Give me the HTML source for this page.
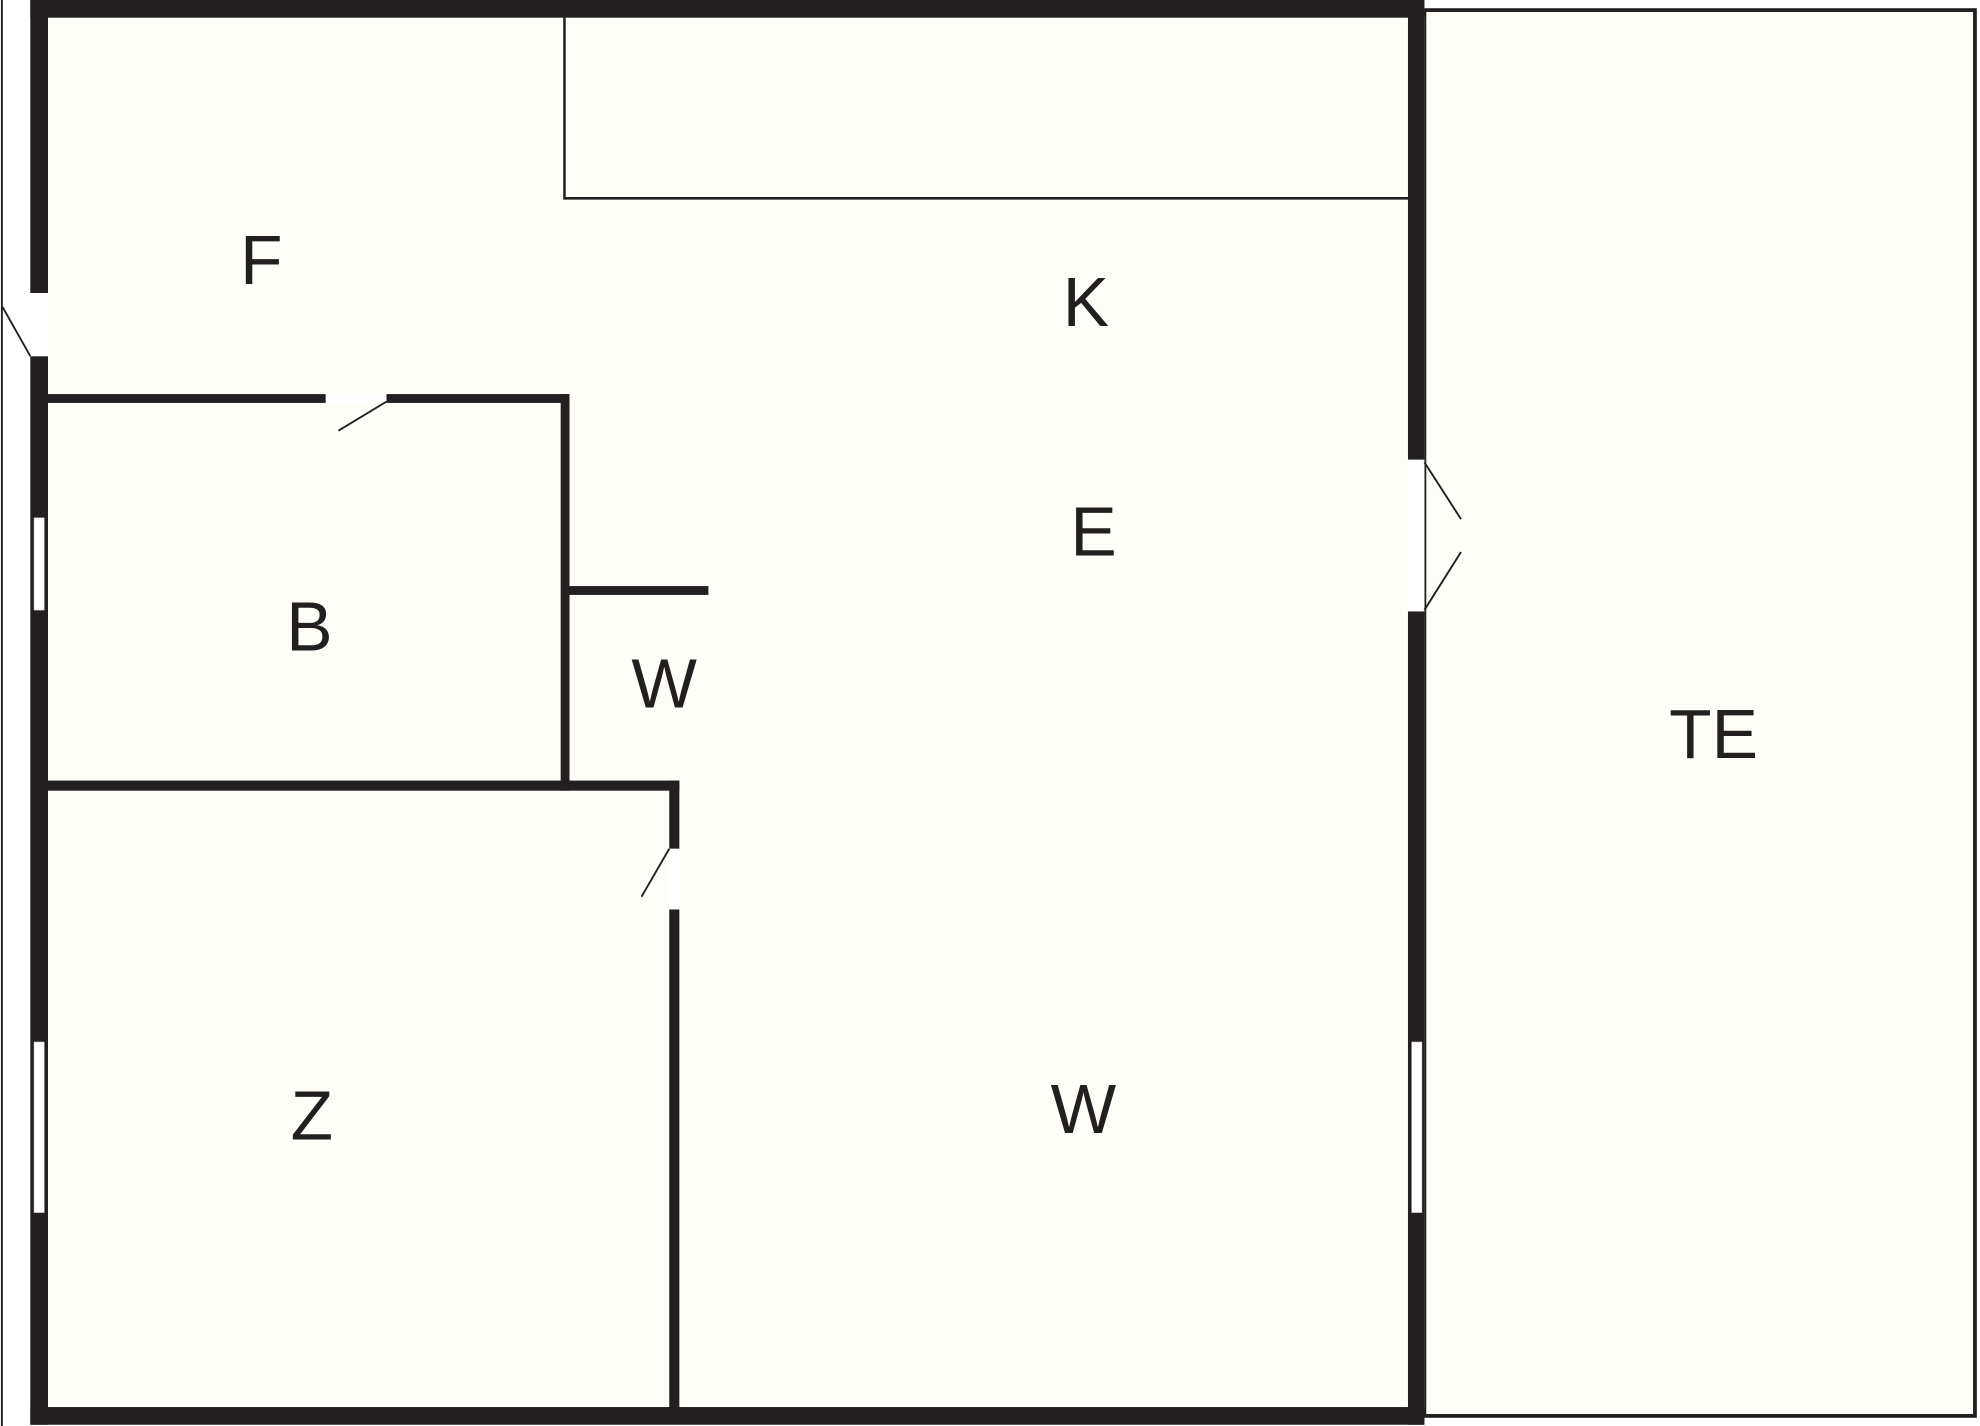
<!DOCTYPE html>
<html><head><meta charset="utf-8"><style>
html,body{margin:0;padding:0;background:#fff;}
svg{display:block;}
text{font-family:"Liberation Sans",sans-serif;font-size:55px;fill:#231f20;text-anchor:middle;}
</style></head><body>
<svg width="1980" height="1426" viewBox="0 0 1568 1129" preserveAspectRatio="none" xmlns="http://www.w3.org/2000/svg">
<rect x="0" y="0" width="1568" height="1129" fill="#ffffff"/>
<line x1="1.5" y1="0" x2="1.5" y2="1129" stroke="#231f20" stroke-width="1.5"/>
<!-- TE box -->
<rect x="1128" y="8" width="436" height="1113" fill="#fefef8" stroke="#231f20" stroke-width="3"/>
<!-- main interior -->
<rect x="24" y="0" width="1104" height="1128" fill="#fefef8"/>
<!-- counter box -->
<polyline points="447,14 447,157 1116,157" fill="none" stroke="#231f20" stroke-width="2"/>
<g fill="#231f20">
<!-- outer walls -->
<rect x="24" y="0" width="1104" height="14"/>
<rect x="24" y="1114" width="1104" height="14"/>
<rect x="24" y="0" width="14" height="232"/>
<rect x="24" y="282" width="14" height="846"/>
<rect x="1115" y="0" width="13" height="364"/>
<rect x="1115" y="484" width="13" height="644"/>
<!-- B top wall -->
<rect x="38" y="312" width="220" height="7"/>
<rect x="306" y="312" width="145" height="7"/>
<!-- B right wall -->
<rect x="444" y="312" width="7" height="314"/>
<!-- stub -->
<rect x="451" y="464" width="110" height="7"/>
<!-- Z top wall -->
<rect x="38" y="618" width="500" height="8"/>
<!-- Z right wall -->
<rect x="530" y="618" width="8" height="54"/>
<rect x="530" y="720" width="8" height="400"/>
</g>
<!-- windows -->
<g fill="#ffffff" stroke="#cfcfcf" stroke-width="0.5">
<rect x="27" y="410" width="8" height="73"/>
<rect x="27" y="825" width="8" height="135"/>
<rect x="1118" y="825" width="8" height="135"/>
</g>
<!-- door gaps -->
<g fill="#ffffff">
<rect x="24" y="232" width="14" height="50"/>
<rect x="258" y="312" width="48" height="7"/>
<rect x="530" y="672" width="8" height="48"/>
<rect x="1115" y="364" width="13" height="120"/>
</g>
<!-- door swings -->
<g stroke="#231f20" stroke-width="1.5" fill="none">
<line x1="24" y1="282" x2="2" y2="243"/>
<line x1="306" y1="318" x2="268" y2="341"/>
<line x1="530" y1="672" x2="508" y2="710"/>
<line x1="1128" y1="366" x2="1157" y2="411"/>
<line x1="1128" y1="483" x2="1157" y2="437"/>
</g>
<text x="207" y="225">F</text>
<text x="860" y="258">K</text>
<text x="866" y="440">E</text>
<text x="245" y="515">B</text>
<text x="526" y="560">W</text>
<text x="247" y="902">Z</text>
<text x="858" y="897">W</text>
<text x="1357" y="600">TE</text>
</svg>
</body></html>
